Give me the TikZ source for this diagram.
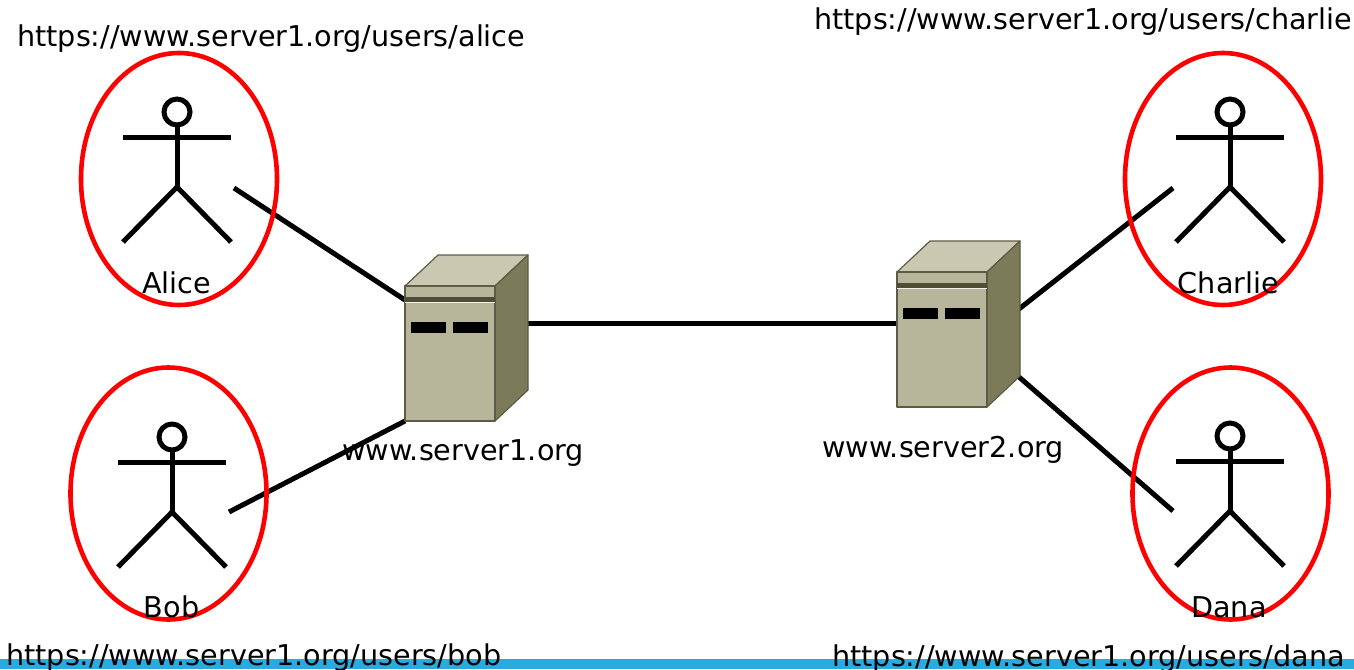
\documentclass[tikz,border=0pt]{standalone}
\usepackage{fontspec}
\setmainfont{DejaVu Sans}
\usetikzlibrary{shapes.geometric}
\definecolor{srvfront}{HTML}{B7B69B}
\definecolor{srvtop}{HTML}{C9C8B1}
\definecolor{srvside}{HTML}{7B7A59}
\definecolor{srvedge}{HTML}{5C5B45}
\definecolor{srvband}{HTML}{4E4D36}
\definecolor{strip}{HTML}{29ABE2}
\tikzset{
  x=1pt,y=-1pt,
  ring/.style={draw=red,line width=4.6pt,ellipse,minimum width=196pt,minimum height=252pt,inner sep=0pt},
  stick/.style={draw=black,line width=5pt},
  link/.style={draw=black,line width=5pt},
  lbl/.style={font=\fontsize{28.65}{29}\selectfont,inner sep=0pt,anchor=base,text=black},
  url/.style={lbl,anchor=base west},
  srvface/.style={draw=srvedge,line width=1.2pt,line join=round},
  person/.pic={
    \draw[stick,fill=white] (0,0) circle[radius=13];
    \draw[stick] (0,13) -- (0,75);
    \draw[stick] (-54,25) -- (54,25);
    \draw[stick] (-54,130) -- (0,75) -- (54,130);
  },
  serverbox/.pic={
    \filldraw[srvface,fill=srvtop] (0,0) -- (33,-31) -- (123,-31) -- (90,0) -- cycle;
    \filldraw[srvface,fill=srvside] (90,0) -- (123,-31) -- (123,104) -- (90,135) -- cycle;
    \filldraw[srvface,fill=srvfront] (0,0) rectangle (90,135);
    \fill[srvband] (0,11) rectangle (90,16);
    \draw[white!80!srvfront,line width=.6pt] (0,16.5) -- (90,16.5);
    \fill[fill=black] (6,36) rectangle (41,47);
    \fill[fill=black] (48,36) rectangle (83,47);
  }
}
\begin{document}
\begin{tikzpicture}
\useasboundingbox (0,0) rectangle (1354,669);
\fill[strip] (0,659) rectangle (1354,669);
% connector ends
\coordinate (aEnd) at (234,188);
\coordinate (bEnd) at (229,512);
\coordinate (cEnd) at (1173,188);
\coordinate (dEnd) at (1173,511);
\coordinate (s1a) at (405,300);
\coordinate (s1b) at (405,421);
\coordinate (s1r) at (528,323);
\coordinate (s2l) at (897,323);
\coordinate (s2c) at (1019,309);
\coordinate (s2d) at (1019,377);
\draw[link] (aEnd) -- (s1a);
\draw[link] (bEnd) -- (s1b);
\draw[link] (s1r) -- (s2l);
\draw[link] (cEnd) -- (s2c);
\draw[link] (dEnd) -- (s2d);
\pic at (405,286) {serverbox};
\pic at (897,272) {serverbox};
\pic at (177,112) {person};
\pic at (172,437) {person};
\pic at (1230,112) {person};
\pic at (1230,436) {person};
\node[ring] (alice) at (179,179) {};
\node[ring] (bob) at (168.5,493.5) {};
\node[ring] (charlie) at (1223,179) {};
\node[ring] (dana) at (1230.5,493.5) {};
\node[lbl] (tA) at (176.5,293) {Alice};
\node[lbl] (tB) at (171.5,617) {Bob};
\node[lbl] (tC) at (1228.5,293) {Charlie};
\node[lbl] (tD) at (1229,617) {Dana};
\node[url] (uA) at (17,47) {https://www.server1.org/users/alice};
\node[url] (uC) at (814,30) {https://www.server1.org/users/charlie};
\node[url] (uB) at (6,665) {https://www.server1.org/users/bob};
\node[url] (uD) at (832,666) {https://www.server1.org/users/dana};
\node[url] (s1t) at (342,460) {www.server1.org};
\node[url] (s2t) at (822,457) {www.server2.org};
\end{tikzpicture}
\end{document}
